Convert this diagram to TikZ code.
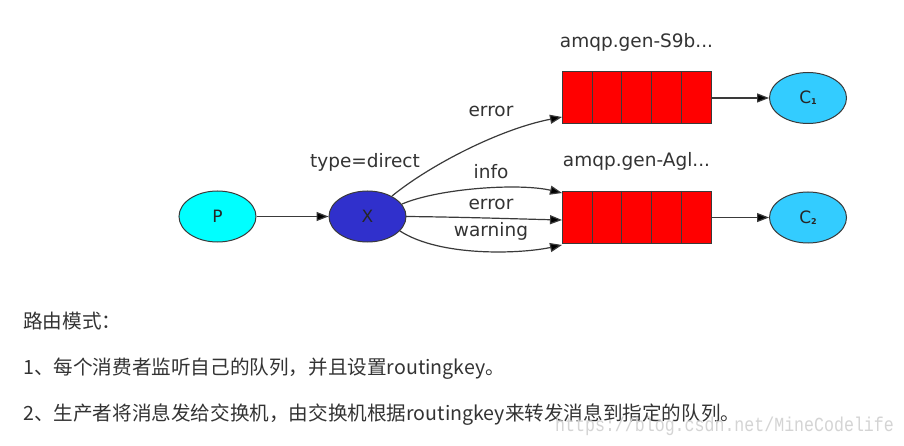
\documentclass[tikz,border=0pt]{standalone}
\usepackage{fontspec}
\setmainfont{DejaVu Sans}
\newfontfamily\cjk{Noto Sans CJK SC}
\newfontfamily\wm[FakeStretch=0.83]{Liberation Mono}
\usetikzlibrary{shapes.geometric,arrows.meta,calc}
\definecolor{edgec}{HTML}{3A3A3A}
\definecolor{txt}{HTML}{333333}
\definecolor{pcol}{HTML}{00FFFF}
\definecolor{xcol}{HTML}{3030CC}
\definecolor{ccol}{HTML}{33CCFF}
\definecolor{qcol}{HTML}{FF0000}
\tikzset{
  ell/.style={ellipse, draw=edgec, line width=1pt, minimum width=77pt, minimum height=51pt, inner sep=0pt, font=\fontsize{17}{17}\selectfont, text=black!85},
  queue/.style={rectangle, draw=edgec, line width=1pt, fill=qcol, minimum width=149pt, minimum height=52pt, inner sep=0pt},
  cell/.style={draw=edgec, line width=1pt},
  conn/.style={draw=edgec, line width=1.2pt, -{Triangle[length=12pt,width=9pt,fill=black]}},
  lbl/.style={anchor=base, inner sep=0pt, text=txt, font=\fontsize{18.5}{18.5}\selectfont},
  para/.style={anchor=base west, inner sep=0pt, text=txt, font=\cjk\fontsize{19.6}{19.6}\selectfont},
}
\newcommand{\cname}[1]{C\raisebox{-1pt}{\fontsize{8}{8}\selectfont\bfseries #1}}
\begin{document}
\begin{tikzpicture}[x=1pt,y=-1pt]
\useasboundingbox[fill=white] (0,0) rectangle (904,446);
% nodes
\node[ell, fill=pcol] (P) at (217.5,216.5) {P};
\node[ell, fill=xcol] (X) at (367.5,216.5) {X};
\node[queue] (Q1) at (636.5,98) {};
\node[queue] (Q2) at (636.5,217.5) {};
\node[ell, fill=ccol] (C1) at (808,98) {\cname{1}};
\node[ell, fill=ccol] (C2) at (808,217.5) {\cname{2}};
% queue cells
\foreach \q in {Q1,Q2}{
  \foreach \f in {0.205,0.403,0.602,0.8}{
    \draw[cell] ($(\q.north west)!\f!(\q.north east)$) -- ($(\q.south west)!\f!(\q.south east)$);
  }
}
% labels
\node[lbl] (n1) at (636.5,48) {amqp.gen-S9b...};
\node[lbl] (n2) at (636.5,167) {amqp.gen-Agl...};
\node[lbl] (t) at (365,167.5) {type=direct};
\node[lbl] (l1) at (491,116.5) {error};
\node[lbl] (l2) at (491,178.5) {info};
\node[lbl] (l3) at (491,209.5) {error};
\node[lbl] (l4) at (491,236.5) {warning};
% connection points
\coordinate (x1) at (392,196);
\coordinate (x2) at (402,204);
\coordinate (x3) at (406,216.5);
\coordinate (x4) at (400,231);
\coordinate (q1) at (562,117);
\coordinate (qa) at (562,193);
\coordinate (qb) at (562,220);
\coordinate (qc) at (562,245);
% edges
\draw[conn] (P) -- (X);
\draw[conn] (x1) .. controls (430,165) and (500,129) .. (q1);
\draw[conn] (x2) .. controls (440,188) and (520,183) .. (qa);
\draw[conn] (x3) .. controls (460,217) and (520,219) .. (qb);
\draw[conn] (x4) .. controls (440,257) and (520,254) .. (qc);
\draw[conn] (Q1) -- (C1);
\draw[conn] (Q2) -- (C2);
% text
\node[para] (h) at (23,328) {路由模式：};
\node[para] (p1) at (23,374.5) {1、每个消费者监听自己的队列，并且设置routingkey。};
\node[para] (p2) at (23,420.5) {2、生产者将消息发给交换机，由交换机根据routingkey来转发消息到指定的队列。};
\node[anchor=base west, inner sep=0pt, text=black!17, font=\wm\fontsize{20}{20}\selectfont] (w) at (555,431) {https://blog.csdn.net/MineCodelife};
\end{tikzpicture}
\end{document}
